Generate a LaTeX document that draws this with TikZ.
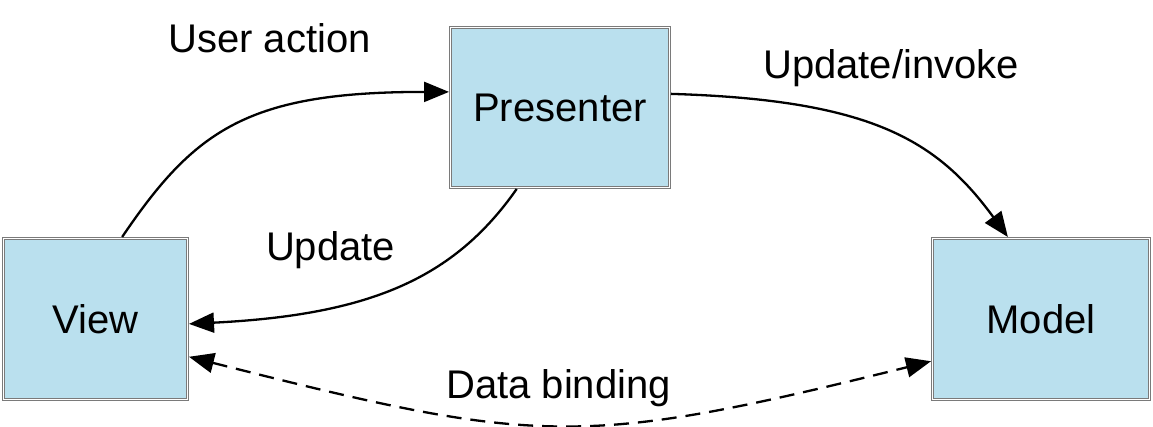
\documentclass[tikz,border=0pt]{standalone}
\usepackage{fontspec}
\setmainfont{Liberation Sans}
\usetikzlibrary{arrows.meta}
\definecolor{boxfill}{HTML}{BAE0EE}
\definecolor{boxline}{HTML}{7A7A7A}
\begin{document}
\begin{tikzpicture}[x=1pt,y=1pt,
  box/.style={draw=boxline, line width=0.8pt, double=white, double distance=1.2pt,
    fill=boxfill, inner sep=0pt, outer sep=1.4pt, text height=28.6pt, text depth=0pt,
    font=\fontsize{40}{48}\selectfont},
  lbl/.style={inner sep=0pt, anchor=base, font=\fontsize{40}{48}\selectfont},
  arr/.style={line width=2.3pt, -{Triangle[length=25pt,width=20pt]}},
  darr/.style={line width=2.3pt, dash pattern=on 15pt off 9pt,
    {Triangle[length=25pt,width=20pt]}-{Triangle[length=25pt,width=20pt]}}]
\useasboundingbox (0,0) rectangle (1153,-426);
\node[box, minimum width=184.2pt, minimum height=161.2pt] (View) at (95.5,-319) {View};
\node[box, minimum width=219.2pt, minimum height=160.2pt] (Presenter) at (560,-107.5) {Presenter};
\node[box, minimum width=217.2pt, minimum height=161.2pt] (Model) at (1041,-319) {Model};
\node[lbl] (ua) at (269.5,-52) {User action};
\node[lbl] (ui) at (891,-78) {Update/invoke};
\node[lbl] (up) at (330.5,-260) {Update};
\node[lbl] (db) at (558.5,-398) {Data binding};
\draw[arr] (View.72) .. controls +(73,108) and +(-200,0) .. (Presenter.172);
\draw[arr] (Presenter.7) .. controls +(200,-6) and +(-71,97) .. (Model.112);
\draw[arr] (Presenter.242) .. controls +(-63,-90) and +(180,9) .. (View.-3);
\draw[darr] (View.-22) .. controls +(350,-89) and +(-350,-87) .. (Model.201);
\end{tikzpicture}
\end{document}
